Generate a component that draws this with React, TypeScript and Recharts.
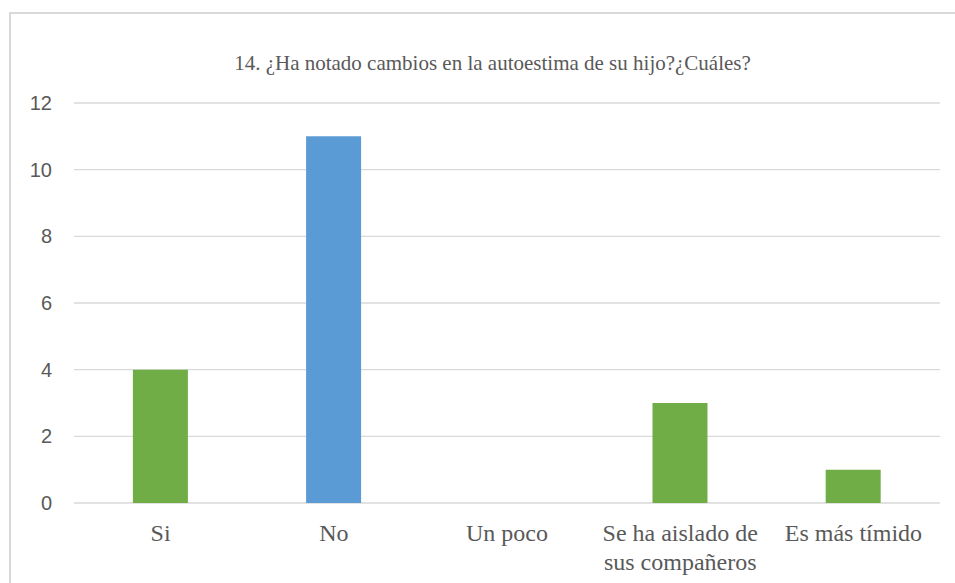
import { BarChart, Bar, XAxis, YAxis, CartesianGrid, Cell } from 'recharts';

const categories = ['Si', 'No', 'Un poco', 'Se ha aislado de\nsus compañeros', 'Es más tímido'];
const counts = [4, 11, 0, 3, 1];
const barColors = ['#70ad47', '#5b9bd5', '#70ad47', '#70ad47', '#70ad47'];
const yTicks = [0, 2, 4, 6, 8, 10, 12];

const title = '14. ¿Ha notado cambios en la autoestima de su hijo?¿Cuáles?';

const data = categories.map((name, i) => ({ name, value: counts[i] }));

const serif = '"Liberation Serif", "Times New Roman", serif';
const sans = '"Liberation Sans", Arial, sans-serif';

// category labels may carry a manual line break
function CategoryTick({ x, y, payload }: any) {
  const lines = String(payload.value).split('\n');
  return (
    <text
      x={x}
      y={y + 30}
      textAnchor="middle"
      fill="#595959"
      fontSize={24}
      fontFamily={serif}
    >
      {lines.map((line, i) => (
        <tspan key={i} x={x} dy={i === 0 ? 0 : 29}>
          {line}
        </tspan>
      ))}
    </text>
  );
}

export default function App() {
  return (
    <div style={{ position: 'absolute', left: 0, top: 0, width: 955, height: 583, overflow: 'hidden', background: '#fff' }}>
      <div
        style={{
          position: 'absolute',
          left: 9,
          top: 12,
          width: 980,
          height: 620,
          border: '2px solid #d9d9d9',
          boxSizing: 'border-box',
        }}
      />
      <div
        style={{
          position: 'absolute',
          left: 0,
          top: 51,
          width: 985,
          textAlign: 'center',
          fontFamily: serif,
          fontSize: 21,
          lineHeight: '24px',
          color: '#595959',
        }}
      >
        {title}
      </div>
      <div style={{ position: 'absolute', left: 0, top: 0 }}>
        <BarChart
          width={955}
          height={583}
          data={data}
          margin={{ top: 103, right: 15, bottom: 0, left: 0 }}
          barCategoryGap="34%"
        >
          <CartesianGrid vertical={false} stroke="#d9d9d9" strokeWidth={1.3} />
          <XAxis
            dataKey="name"
            height={80}
            axisLine={false}
            tickLine={false}
            interval={0}
            tick={<CategoryTick />}
          />
          <YAxis
            width={74}
            domain={[0, 12]}
            ticks={yTicks}
            axisLine={false}
            tickLine={false}
            tickSize={0}
            tickMargin={22}
            tick={{ fill: '#595959', fontSize: 20, fontFamily: sans }}
          />
          <Bar dataKey="value" isAnimationActive={false}>
            {data.map((d, i) => (
              <Cell key={d.name} fill={barColors[i]} />
            ))}
          </Bar>
        </BarChart>
      </div>
    </div>
  );
}
